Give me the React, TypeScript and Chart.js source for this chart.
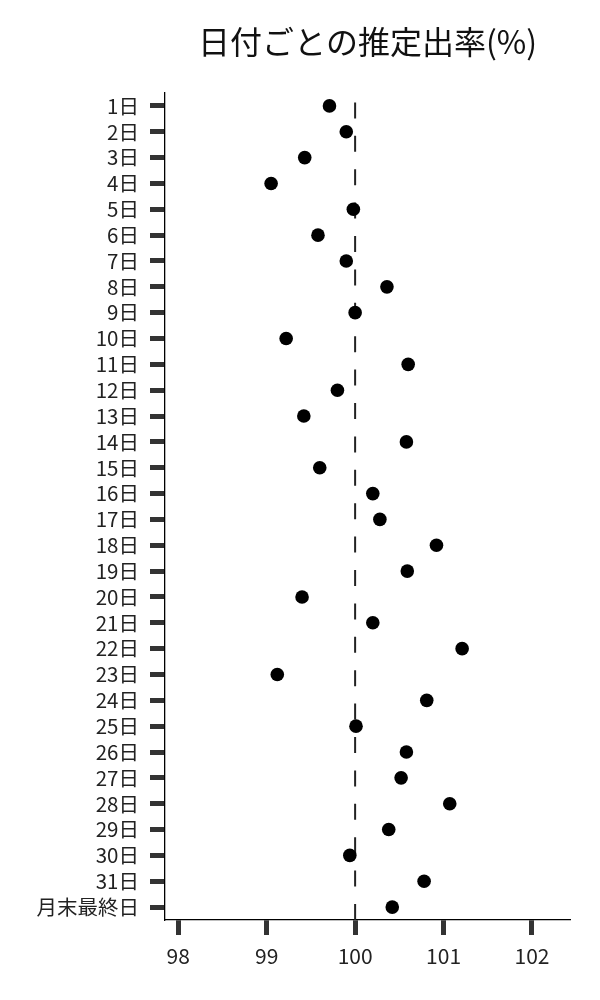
import React, { useEffect, useRef } from 'react';
import { Chart, registerables } from 'chart.js';

Chart.register(...registerables);

const dayLabels = [
  '1日', '2日', '3日', '4日', '5日', '6日', '7日', '8日', '9日', '10日',
  '11日', '12日', '13日', '14日', '15日', '16日', '17日', '18日', '19日', '20日',
  '21日', '22日', '23日', '24日', '25日', '26日', '27日', '28日', '29日', '30日',
  '31日', '月末最終日',
];

const rates = [
  99.71, 99.9, 99.43, 99.05, 99.98, 99.58, 99.9, 100.36, 100.0, 99.22,
  100.6, 99.8, 99.42, 100.58, 99.6, 100.2, 100.28, 100.92, 100.59, 99.4,
  100.2, 101.21, 99.12, 100.81, 100.01, 100.58, 100.52, 101.07, 100.38, 99.94,
  100.78, 100.42,
];

const xTicks = [98, 99, 100, 101, 102];
const referenceRate = 100;

const FONT = "'Noto Sans CJK JP', 'Noto Sans', sans-serif";

// dashed vertical reference line, drawn under the points
const refLinePlugin = {
  id: 'refLine',
  beforeDatasetsDraw(chart: Chart) {
    const { ctx, chartArea, scales } = chart;
    const x = scales.x.getPixelForValue(referenceRate);
    ctx.save();
    ctx.strokeStyle = '#222';
    ctx.lineWidth = 2;
    ctx.setLineDash([16, 17.4]);
    ctx.beginPath();
    ctx.moveTo(x, chartArea.bottom);
    ctx.lineTo(x, chartArea.top);
    ctx.stroke();
    ctx.restore();
  },
};

export default function App() {
  const chartRef = useRef<HTMLCanvasElement>(null);

  useEffect(() => {
    if (!chartRef.current) return;
    const ctx = chartRef.current.getContext('2d');
    if (!ctx) return;

    const chart = new Chart(ctx, {
      type: 'scatter',
      data: {
        datasets: [
          {
            label: '推定出率',
            data: rates.map((v, i) => ({ x: v, y: dayLabels[i] })) as any,
            backgroundColor: '#000',
            borderColor: '#000',
            pointRadius: 6.8,
            pointHoverRadius: 6.8,
            borderWidth: 0,
          },
        ],
      },
      options: {
        responsive: true,
        maintainAspectRatio: false,
        animation: false,
        layout: { padding: { top: 0, right: 30, bottom: 0, left: 0 } },
        plugins: {
          legend: { display: false },
          tooltip: { enabled: false },
          title: {
            display: true,
            text: '日付ごとの推定出率(%)',
            fullSize: false,
            color: '#111',
            font: { family: FONT, size: 32, weight: 'normal' },
            padding: { top: 23, bottom: 31.6 },
          },
        },
        scales: {
          x: {
            type: 'linear',
            min: 97.85,
            max: 102.43,
            afterBuildTicks: (scale: any) => {
              scale.ticks = xTicks.map((v) => ({ value: v }));
            },
            afterFit: (scale: any) => {
              scale.height = 80;
            },
            grid: {
              drawOnChartArea: false,
              drawTicks: true,
              tickLength: 15,
              tickWidth: 5,
              tickColor: '#333',
            },
            border: { display: true, color: '#000', width: 1.3 },
            ticks: {
              color: '#222',
              padding: 8,
              font: { family: FONT, size: 21 },
            },
          },
          y: {
            type: 'category',
            labels: dayLabels,
            offset: true,
            afterFit: (scale: any) => {
              scale.width = 165;
            },
            grid: {
              drawOnChartArea: false,
              drawTicks: true,
              tickLength: 15,
              tickWidth: 5,
              tickColor: '#333',
            },
            border: { display: true, color: '#000', width: 1.3 },
            ticks: {
              color: '#222',
              padding: 11,
              autoSkip: false,
              font: { family: FONT, size: 20.5 },
            },
          },
        },
      },
      plugins: [refLinePlugin],
    });

    return () => {
      chart.destroy();
    };
  }, []);

  return (
    <div style={{ position: 'absolute', left: 0, top: 0, width: 600, height: 1000, background: '#fff' }}>
      <canvas ref={chartRef}></canvas>
    </div>
  );
}
